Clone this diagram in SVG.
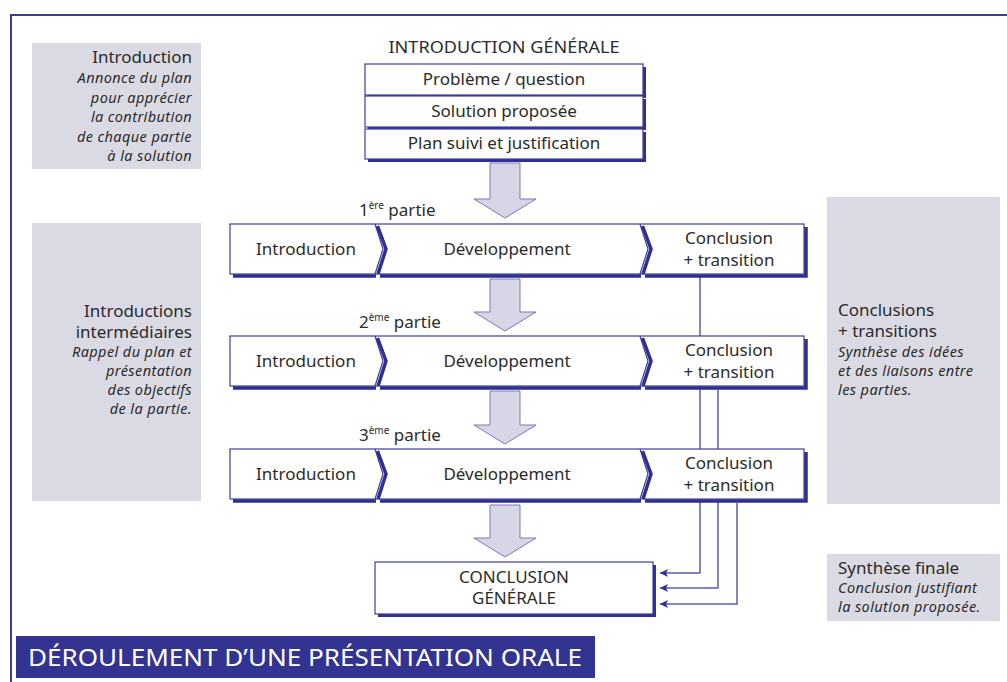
<svg xmlns="http://www.w3.org/2000/svg" width="1007" height="682" viewBox="0 0 1007 682">
<defs>
<style>
.t{font-family:"Noto Sans","DejaVu Sans",sans-serif;fill:#2b2b2b;font-size:17px}
.ti{font-family:"Noto Sans","DejaVu Sans",sans-serif;fill:#2b2b2b;font-size:14.5px;font-style:italic;letter-spacing:0.4px}
.m{text-anchor:middle}
.e{text-anchor:end}
.gray{fill:#dadae4}
.box{fill:#fff;stroke:#3d3d9e;stroke-width:1.2}
.sh{fill:#2f2f8f}
.shl{fill:none;stroke:#2f2f8f;stroke-width:3.5}
.thin{fill:none;stroke:#3d3d9e;stroke-width:1.2}
.arrow{fill:#d6d6e6;stroke:#7878b8;stroke-width:1}
.con{fill:none;stroke:#5c5cab;stroke-width:1.5}
</style>
<marker id="ah" viewBox="0 0 8 8" refX="8" refY="4" markerWidth="8" markerHeight="8" markerUnits="userSpaceOnUse" orient="auto">
<path d="M0,0 L8,4 L0,8 L2,4 Z" fill="#2f2f8f"/>
</marker>
</defs>
<rect width="1007" height="682" fill="#fff"/>
<path d="M11,682 V15 H1007" fill="none" stroke="#3c3c9c" stroke-width="2"/>

<g id="side-intro">
<rect class="gray" x="32" y="43" width="169" height="126"/>
<text class="t e" x="192" y="63">Introduction</text>
<text class="ti e" x="192" y="83">Annonce du plan</text>
<text class="ti e" x="192" y="103">pour apprécier</text>
<text class="ti e" x="192" y="122">la contribution</text>
<text class="ti e" x="192" y="142">de chaque partie</text>
<text class="ti e" x="192" y="161">à la solution</text>
</g>
<g id="side-intros">
<rect class="gray" x="32" y="223" width="169" height="278"/>
<text class="t e" x="192" y="317">Introductions</text>
<text class="t e" x="192" y="338">intermédiaires</text>
<text class="ti e" x="192" y="357">Rappel du plan et</text>
<text class="ti e" x="192" y="376">présentation</text>
<text class="ti e" x="192" y="395">des objectifs</text>
<text class="ti e" x="192" y="414">de la partie.</text>
</g>
<g id="side-conclusions">
<rect class="gray" x="827" y="197" width="173" height="307"/>
<text class="t" x="838" y="316">Conclusions</text>
<text class="t" x="838" y="337">+ transitions</text>
<text class="ti" x="838" y="357">Synthèse des idées</text>
<text class="ti" x="838" y="376">et des liaisons entre</text>
<text class="ti" x="838" y="395">les parties.</text>
</g>
<g id="side-synthese">
<rect class="gray" x="827" y="554" width="173" height="67"/>
<text class="t" x="838" y="574">Synthèse finale</text>
<text class="ti" x="838" y="593">Conclusion justifiant</text>
<text class="ti" x="838" y="612">la solution proposée.</text>
</g>

<g id="connectors">
<path class="con" d="M700,277 V573 H660" marker-end="url(#ah)"/>
<path class="con" d="M718,390 V588 H660" marker-end="url(#ah)"/>
<path class="con" d="M737,503 V604 H660" marker-end="url(#ah)"/>
<path class="arrow" d="M490,163 H520 V199 H536 L505,218 L474,199 H490 Z"/>
<path class="arrow" d="M490,279 H520 V312 H536 L505,331 L474,312 H490 Z"/>
<path class="arrow" d="M490,391 H520 V425 H536 L505,444 L474,425 H490 Z"/>
<path class="arrow" d="M490,505 H520 V538 H536 L505,557 L474,538 H490 Z"/>
</g>

<g id="intro-generale">
<text class="t m" x="504" y="53" textLength="231" lengthAdjust="spacingAndGlyphs">INTRODUCTION GÉNÉRALE</text>
<rect class="sh" x="368" y="67" width="278" height="31"/>
<rect class="box" x="365" y="64" width="278" height="31"/>
<text class="t m" x="504" y="85">Problème / question</text>
<rect class="sh" x="368" y="99" width="278" height="31"/>
<rect class="box" x="365" y="96" width="278" height="31"/>
<text class="t m" x="504" y="117">Solution proposée</text>
<rect class="sh" x="368" y="132" width="278" height="30"/>
<rect class="box" x="365" y="129" width="278" height="30"/>
<text class="t m" x="504" y="149">Plan suivi et justification</text>
</g>

<g id="partie1">
<text class="t" x="359" y="216">1<tspan font-size="10" dy="-7">ère</tspan><tspan dy="7"> partie</tspan></text>
<rect class="box" x="230" y="224" width="574" height="50"/>
<path class="thin" d="M375,224 L383,249 L375,274 M640,224 L648,249 L640,274"/>
<path class="shl" d="M233,276 H376 M380,276 H641 M645,276 H806 V227 M377.5,226 L386,249 L378,274 M642.5,226 L651,249 L643,274"/>
<text class="t m" x="306" y="255">Introduction</text>
<text class="t m" x="507" y="255">Développement</text>
<text class="t m" x="729" y="244">Conclusion</text>
<text class="t m" x="729" y="266">+ transition</text>
</g>

<g id="partie2">
<text class="t" x="359" y="328">2<tspan font-size="10" dy="-7">ème</tspan><tspan dy="7"> partie</tspan></text>
<rect class="box" x="230" y="336" width="574" height="50"/>
<path class="thin" d="M375,336 L383,361 L375,386 M640,336 L648,361 L640,386"/>
<path class="shl" d="M233,388 H376 M380,388 H641 M645,388 H806 V339 M377.5,338 L386,361 L378,386 M642.5,338 L651,361 L643,386"/>
<text class="t m" x="306" y="367">Introduction</text>
<text class="t m" x="507" y="367">Développement</text>
<text class="t m" x="729" y="356">Conclusion</text>
<text class="t m" x="729" y="378">+ transition</text>
</g>

<g id="partie3">
<text class="t" x="359" y="441">3<tspan font-size="10" dy="-7">ème</tspan><tspan dy="7"> partie</tspan></text>
<rect class="box" x="230" y="449" width="574" height="50"/>
<path class="thin" d="M375,449 L383,474 L375,499 M640,449 L648,474 L640,499"/>
<path class="shl" d="M233,501 H376 M380,501 H641 M645,501 H806 V452 M377.5,451 L386,474 L378,499 M642.5,451 L651,474 L643,499"/>
<text class="t m" x="306" y="480">Introduction</text>
<text class="t m" x="507" y="480">Développement</text>
<text class="t m" x="729" y="469">Conclusion</text>
<text class="t m" x="729" y="491">+ transition</text>
</g>

<g id="conclusion-generale">
<rect class="sh" x="378" y="565" width="278" height="52"/>
<rect class="box" x="375" y="562" width="278" height="52"/>
<text class="t m" x="514" y="583">CONCLUSION</text>
<text class="t m" x="514" y="604">GÉNÉRALE</text>
</g>

<g id="banner">
<rect x="16" y="636" width="579" height="42" fill="#333391"/>
<text x="28" y="666" font-family="'Noto Sans','DejaVu Sans',sans-serif" font-size="24" fill="#fff" textLength="554" lengthAdjust="spacingAndGlyphs">DÉROULEMENT D’UNE PRÉSENTATION ORALE</text>
</g>
</svg>
